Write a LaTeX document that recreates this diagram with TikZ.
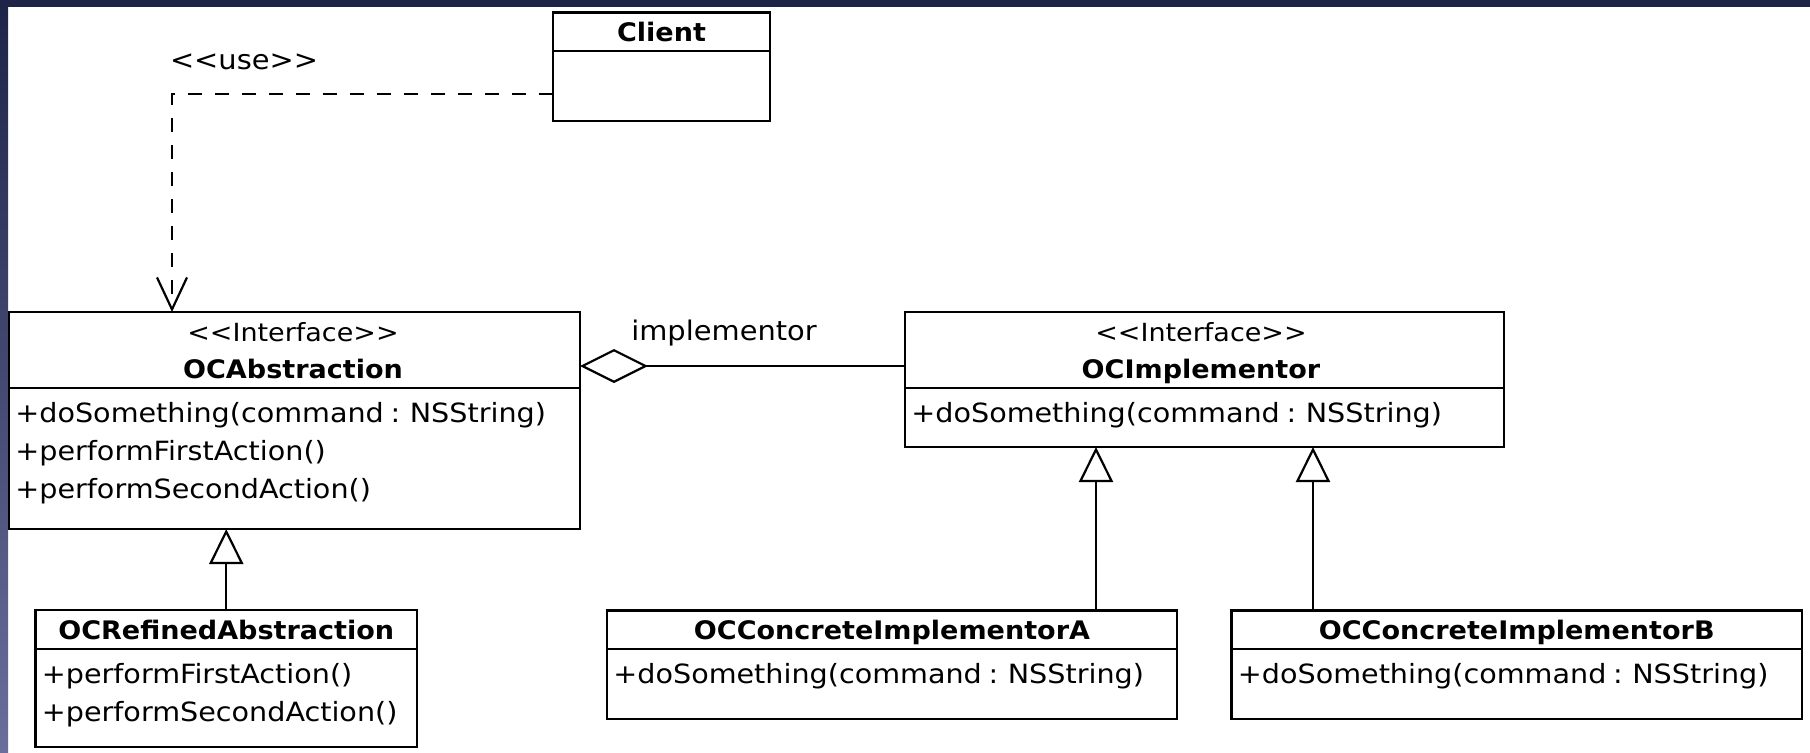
\documentclass[tikz,border=0pt]{standalone}
\usepackage{fontspec}
\usetikzlibrary{arrows.meta}
\newfontfamily\memberfont[FakeStretch=1.08]{DejaVu Sans}
\newfontfamily\titlefont[FakeStretch=1.06]{DejaVu Sans}
\newfontfamily\labelfont[FakeStretch=1.07]{DejaVu Sans}
\newcommand\guil[1]{<\kern0pt<#1>\kern0pt>}
\newcommand\tightspaces{\spaceskip=0.25em\relax}
\definecolor{framenavy}{RGB}{29,36,72}
\definecolor{framelow}{RGB}{106,110,156}
% class box: name, x1, y1, x2, y2, y of the separator
\newcommand\umlbox[6]{%
  \node[classbox, minimum width={(#4-#2)*0.5pt}, minimum height={(#5-#3)*0.5pt}] (#1) at (#2,#3) {};
  \draw[sepline] (#2,#6) -- (#4,#6);}
\tikzset{
  classbox/.style={draw, line width=1.25pt, outer sep=0pt, inner sep=0pt, anchor=north west, fill=white},
  sepline/.style={line width=1.2pt},
  member/.style={anchor=base west, inner sep=0pt,
    font=\memberfont\fontsize{13.25}{15}\selectfont, execute at begin node=\tightspaces},
  ctitle/.style={anchor=base, inner sep=0pt, font=\titlefont\bfseries\fontsize{12.75}{14}\selectfont},
  stereotype/.style={anchor=base, inner sep=0pt, font=\memberfont\fontsize{12.5}{14}\selectfont},
  lbl/.style={anchor=base, inner sep=0pt, font=\labelfont\fontsize{13.5}{15}\selectfont},
  gen/.style={line width=1.1pt, -{Triangle[open, length=17.5pt, width=17pt, line width=1.1pt]}},
  agg/.style={line width=1.1pt, -{Diamond[open, length=34pt, width=17pt, line width=1.1pt]}},
  dep/.style={line width=1.3pt, dash pattern=on 7pt off 6.5pt,
    -{Straight Barb[length=16pt, width=15pt, line width=1.1pt]}},
}
\begin{document}
\begin{tikzpicture}[x=0.5pt, y=-0.5pt]
\useasboundingbox (0,0) rectangle (1810,752);
\fill[white] (0,0) rectangle (1810,752);
% window frame
\shade[top color=framenavy, bottom color=framelow] (0,0) rectangle (8,752);
\fill[framenavy] (0,0) rectangle (1810,7);

% classes
\umlbox{client}{553}{12.7}{770}{121}{50.8}
\node[ctitle] (clientname) at (661.5,41.7) {Client};

\umlbox{abs}{9}{312}{580}{529}{388}
\node[stereotype] (absst) at (293,341.5) {\guil{Interface}};
\node[ctitle] (absname) at (293,378.5) {OCAbstraction};
\node[member] (absm1) at (15,422) {+doSomething(command : NSString)};
\node[member] (absm2) at (15,460) {+performFirstAction()};
\node[member] (absm3) at (15,498) {+performSecondAction()};

\umlbox{impl}{905}{312}{1504}{447}{388}
\node[stereotype] (implst) at (1201,341.5) {\guil{Interface}};
\node[ctitle] (implname) at (1201,378.5) {OCImplementor};
\node[member] (implm1) at (911,422) {+doSomething(command : NSString)};

\umlbox{refined}{35.5}{610}{417}{747}{649}
\node[ctitle] (refinedname) at (226.25,639.5) {OCRefinedAbstraction};
\node[member] (refinedm1) at (41.5,683) {+performFirstAction()};
\node[member] (refinedm2) at (41.5,721) {+performSecondAction()};

\umlbox{concA}{607}{610.7}{1177}{719}{649}
\node[ctitle] (concAname) at (892,639.5) {OCConcreteImplementorA};
\node[member] (concAm1) at (613,683) {+doSomething(command : NSString)};

\umlbox{concB}{1231.5}{610.7}{1802}{719}{649}
\node[ctitle] (concBname) at (1516.75,639.5) {OCConcreteImplementorB};
\node[member] (concBm1) at (1237.5,683) {+doSomething(command : NSString)};

% dependency Client -> OCAbstraction
\coordinate (usebend) at (172,94);
\draw[dep] (client.west |- usebend) -- (usebend) -- (usebend |- abs.north);
\node[lbl] (uselbl) at (244,69.3) {\guil{use}};

% aggregation OCAbstraction <>- OCImplementor
\coordinate (aggy) at (0,366);
\draw[agg] (impl.west |- aggy) -- (abs.east |- aggy);
\node[lbl] (impllbl) at (724,340) {implementor};

% generalizations
\draw[gen] (refined.north) -- (refined.north |- abs.south);
\coordinate (genA) at (1096,0);
\coordinate (genB) at (1313,0);
\draw[gen] (concA.north -| genA) -- (impl.south -| genA);
\draw[gen] (concB.north -| genB) -- (impl.south -| genB);
\end{tikzpicture}
\end{document}
